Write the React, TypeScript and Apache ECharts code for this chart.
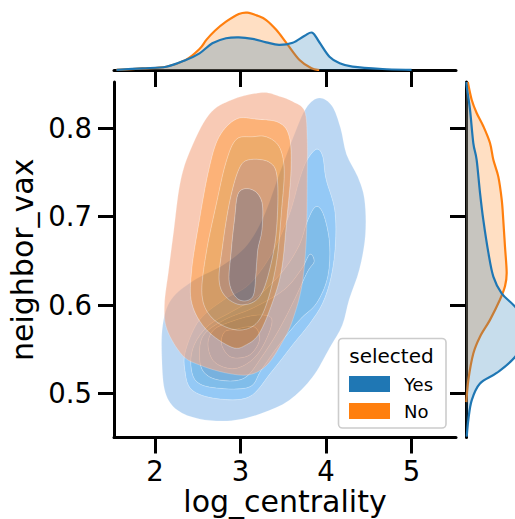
import React, { useEffect, useRef } from "react";
import * as echarts from "echarts";

// ---------- axes / labels ----------
const X_TICKS = [2, 3, 4, 5];
const Y_TICKS = [0.5, 0.6, 0.7, 0.8];
const X_MIN = 1.52;
const X_MAX = 5.52;
const Y_MIN = 0.45;
const Y_MAX = 0.852;
const X_NAME = "log_centrality";
const Y_NAME = "neighbor_vax";
const LEGEND_TITLE = "selected";
const HUE_LABELS = ["Yes", "No"];

// ---------- KDE contour levels (x = log_centrality, y = neighbor_vax), outer -> inner ----------
const YES_LEVEL_1 = [
  [3.92, 0.834], [4.07, 0.825], [4.17, 0.8], [4.24, 0.77], [4.37, 0.745], [4.45, 0.719], [4.46, 0.679],
  [4.39, 0.64], [4.27, 0.606], [4.19, 0.577], [4.04, 0.551], [3.84, 0.518], [3.57, 0.492], [3.24, 0.477],
  [2.89, 0.469], [2.52, 0.471], [2.26, 0.481], [2.12, 0.501], [2.08, 0.538], [2.09, 0.577], [2.19, 0.606],
  [2.46, 0.628], [2.81, 0.646], [3.08, 0.668], [3.28, 0.702], [3.45, 0.747], [3.63, 0.793], [3.77, 0.823],
];
const YES_LEVEL_2 = [
  [3.89, 0.776], [3.96, 0.768], [4.0, 0.742], [4.1, 0.708], [4.11, 0.67], [4.06, 0.632], [3.96, 0.602],
  [3.81, 0.579], [3.61, 0.555], [3.36, 0.524], [3.1, 0.496], [2.72, 0.494], [2.43, 0.504], [2.35, 0.526],
  [2.36, 0.549], [2.52, 0.583], [2.81, 0.606], [3.1, 0.623], [3.36, 0.657], [3.57, 0.702], [3.69, 0.742],
  [3.78, 0.764],
];
const YES_LEVEL_3 = [
  [3.88, 0.711], [3.97, 0.702], [4.04, 0.67], [4.02, 0.632], [3.89, 0.602], [3.69, 0.583], [3.45, 0.555],
  [3.24, 0.526], [3.1, 0.507], [2.72, 0.506], [2.49, 0.513], [2.42, 0.532], [2.46, 0.555], [2.63, 0.577],
  [2.93, 0.594], [3.22, 0.611], [3.51, 0.64], [3.69, 0.668], [3.78, 0.694],
];
const YES_LEVEL_4 = [
  [3.81, 0.657], [3.86, 0.649], [3.78, 0.637], [3.63, 0.606], [3.45, 0.572], [3.24, 0.54], [3.04, 0.517],
  [2.75, 0.515], [2.57, 0.524], [2.52, 0.543], [2.57, 0.566], [2.81, 0.583], [3.16, 0.597], [3.51, 0.617],
  [3.71, 0.64],
];
const YES_LEVEL_5 = [
  [2.89, 0.581], [3.16, 0.588], [3.36, 0.585], [3.31, 0.563], [3.16, 0.54], [2.93, 0.528], [2.7, 0.535],
  [2.62, 0.555], [2.69, 0.572],
];
const YES_LEVEL_6 = [
  [2.93, 0.572], [3.16, 0.575], [3.22, 0.56], [3.1, 0.543], [2.89, 0.541], [2.78, 0.555], [2.81, 0.569],
];

const NO_LEVEL_1 = [
  [3.25, 0.84], [3.45, 0.836], [3.61, 0.83], [3.75, 0.819], [3.78, 0.787], [3.78, 0.747], [3.77, 0.677],
  [3.72, 0.623], [3.61, 0.583], [3.49, 0.558], [3.31, 0.532], [3.1, 0.521], [2.83, 0.523], [2.52, 0.532],
  [2.32, 0.543], [2.14, 0.572], [2.11, 0.6], [2.16, 0.64], [2.22, 0.685], [2.29, 0.736], [2.4, 0.772],
  [2.63, 0.815], [2.9, 0.832],
];
const NO_LEVEL_2 = [
  [3.18, 0.81], [3.45, 0.806], [3.57, 0.79], [3.59, 0.753], [3.54, 0.696], [3.48, 0.64], [3.37, 0.602],
  [3.22, 0.568], [3.07, 0.555], [2.9, 0.552], [2.6, 0.572], [2.43, 0.602], [2.43, 0.64], [2.52, 0.696],
  [2.63, 0.753], [2.75, 0.79], [2.95, 0.81],
];
const NO_LEVEL_3 = [
  [3.14, 0.79], [3.3, 0.79], [3.45, 0.779], [3.51, 0.753], [3.48, 0.708], [3.42, 0.648], [3.3, 0.6],
  [3.16, 0.577], [2.93, 0.572], [2.67, 0.585], [2.55, 0.611], [2.6, 0.659], [2.72, 0.715], [2.83, 0.761],
  [2.95, 0.787],
];
const NO_LEVEL_4 = [
  [3.1, 0.764], [3.34, 0.761], [3.43, 0.742], [3.42, 0.685], [3.34, 0.64], [3.22, 0.609], [3.02, 0.6],
  [2.83, 0.609], [2.75, 0.628], [2.79, 0.666], [2.87, 0.715], [2.98, 0.753],
];
const NO_LEVEL_5 = [
  [3.14, 0.73], [3.25, 0.716], [3.25, 0.685], [3.2, 0.662], [3.18, 0.636], [3.14, 0.609], [2.98, 0.606],
  [2.87, 0.625], [2.89, 0.659], [2.93, 0.696], [2.98, 0.727],
];

// ---------- marginal densities ----------
const YES_X_VAL = [1.55, 1.85, 2.13, 2.36, 2.52, 2.67, 2.83, 2.98, 3.14, 3.3, 3.45, 3.61, 3.75, 3.84, 3.92, 4.04, 4.16, 4.31, 4.66, 5.0];
const YES_X_DENS = [0.003, 0.024, 0.047, 0.143, 0.238, 0.381, 0.453, 0.467, 0.445, 0.395, 0.36, 0.39, 0.49, 0.533, 0.4, 0.19, 0.096, 0.047, 0.014, 0.002];
const NO_X_VAL = [1.55, 1.85, 2.13, 2.36, 2.52, 2.6, 2.7, 2.83, 2.98, 3.08, 3.2, 3.3, 3.42, 3.54, 3.69, 3.83, 3.92];
const NO_X_DENS = [0.002, 0.022, 0.047, 0.145, 0.3, 0.43, 0.56, 0.69, 0.8, 0.82, 0.775, 0.714, 0.571, 0.381, 0.143, 0.024, 0.0];

const YES_Y_VAL = [0.852, 0.847, 0.821, 0.783, 0.764, 0.727, 0.696, 0.659, 0.632, 0.613, 0.598, 0.572, 0.541, 0.523, 0.511, 0.492, 0.47, 0.451];
const YES_Y_DENS = [0.006, 0.01, 0.056, 0.103, 0.15, 0.197, 0.244, 0.315, 0.385, 0.502, 0.69, 0.95, 0.69, 0.432, 0.197, 0.08, 0.033, 0.01];
const NO_Y_VAL = [0.852, 0.832, 0.817, 0.802, 0.783, 0.764, 0.745, 0.719, 0.696, 0.666, 0.636, 0.621, 0.606, 0.583, 0.564, 0.545, 0.515, 0.49];
const NO_Y_DENS = [0.025, 0.08, 0.15, 0.244, 0.338, 0.385, 0.455, 0.503, 0.525, 0.549, 0.573, 0.549, 0.479, 0.338, 0.197, 0.103, 0.033, 0.005];

// ---------- styles ----------
const BLUE = "#1f77b4";
const ORANGE = "#ff7f0e";
const YES_BAND_COLORS = ["#bbd7f3", "#94c9f6", "#80bdea", "#78b1de", "#6ba5d6", "#5e99cc"];
const NO_BAND_COLORS = [
  "rgba(243,167,132,0.6)",
  "rgba(250,127,30,0.6)",
  "rgba(226,117,10,0.6)",
  "rgba(187,97,37,0.6)",
  "rgba(128,80,62,0.66)",
];
const FONT = "DejaVu Sans";

function smoothPath(pts: number[][], closed: boolean): string {
  const n = pts.length;
  const get = (i: number) => (closed ? pts[(i + n) % n] : pts[Math.max(0, Math.min(n - 1, i))]);
  let d = `M${pts[0][0].toFixed(2)},${pts[0][1].toFixed(2)}`;
  const segs = closed ? n : n - 1;
  for (let i = 0; i < segs; i++) {
    const p0 = get(i - 1);
    const p1 = get(i);
    const p2 = get(i + 1);
    const p3 = get(i + 2);
    const c1x = p1[0] + (p2[0] - p0[0]) / 6;
    const c1y = p1[1] + (p2[1] - p0[1]) / 6;
    const c2x = p2[0] - (p3[0] - p1[0]) / 6;
    const c2y = p2[1] - (p3[1] - p1[1]) / 6;
    d += ` C${c1x.toFixed(2)},${c1y.toFixed(2)} ${c2x.toFixed(2)},${c2y.toFixed(2)} ${p2[0].toFixed(2)},${p2[1].toFixed(2)}`;
  }
  if (closed) d += " Z";
  return d;
}

function contourSeries(name: string, levels: number[][][], colors: string[], stroke: string) {
  return {
    type: "custom",
    name,
    xAxisIndex: 0,
    yAxisIndex: 0,
    silent: true,
    clip: false,
    data: levels.map((lv) => [lv[0][0], lv[0][1]]),
    renderItem: (params: any, api: any) => {
      const i = params.dataIndex;
      let d = smoothPath(levels[i].map((p) => api.coord(p)), true);
      if (i + 1 < levels.length) {
        const inner = levels[i + 1].map((p) => api.coord(p)).reverse();
        d += " " + smoothPath(inner, true);
      }
      return {
        type: "path",
        shape: { pathData: d },
        style: { fill: colors[i], stroke, lineWidth: 0.7 },
      };
    },
  };
}

function marginalSeries(
  name: string,
  vals: number[],
  dens: number[],
  color: string,
  fill: string,
  horizontal: boolean
) {
  const axisIdx = horizontal ? 1 : 2;
  const toPt = (v: number, dd: number) => (horizontal ? [v, dd] : [dd, v]);
  return {
    type: "custom",
    name,
    xAxisIndex: axisIdx,
    yAxisIndex: axisIdx,
    silent: true,
    clip: false,
    data: [toPt(vals[0], dens[0])],
    renderItem: (params: any, api: any) => {
      const pts = vals.map((v, k) => api.coord(toPt(v, dens[k])));
      const curve = smoothPath(pts, false);
      const b0 = api.coord(toPt(vals[0], 0));
      const b1 = api.coord(toPt(vals[vals.length - 1], 0));
      const fillD = `${curve} L${b1[0].toFixed(2)},${b1[1].toFixed(2)} L${b0[0].toFixed(2)},${b0[1].toFixed(2)} Z`;
      return {
        type: "group",
        children: [
          { type: "path", shape: { pathData: fillD }, style: { fill, stroke: "none" } },
          { type: "path", shape: { pathData: curve }, style: { fill: "none", stroke: color, lineWidth: 2.2 } },
        ],
      };
    },
  };
}

const spine = { show: true, onZero: false, lineStyle: { color: "#000", width: 3 } };

export default function App() {
  const ref = useRef<HTMLDivElement>(null);
  useEffect(() => {
    if (!ref.current) return;
    const chart = echarts.init(ref.current, null, { renderer: "svg" });
    const option: any = {
      animation: false,
      backgroundColor: "#fff",
      textStyle: { fontFamily: FONT },
      grid: [
        { left: 114, top: 82, width: 342, height: 355.5, outerBoundsMode: "none", containLabel: false },
        { left: 114, top: 0, width: 342, height: 70, outerBoundsMode: "none", containLabel: false },
        { left: 466, top: 82, width: 71, height: 355.5, outerBoundsMode: "none", containLabel: false },
      ],
      xAxis: [
        {
          gridIndex: 0,
          type: "value",
          min: X_MIN,
          max: X_MAX,
          axisLine: spine,
          axisTick: { show: true, customValues: X_TICKS, length: 16, lineStyle: { color: "#000", width: 3 } },
          axisLabel: {
            customValues: X_TICKS,
            fontSize: 27.5,
            fontFamily: FONT,
            color: "#000",
            margin: 19,
            formatter: (v: number) => String(v),
          },
          splitLine: { show: false },
          name: X_NAME,
          nameLocation: "middle",
          nameGap: 49,
          nameMoveOverlap: false,
          nameTextStyle: { fontSize: 30, fontFamily: FONT, color: "#000" },
        },
        {
          gridIndex: 1,
          type: "value",
          min: X_MIN,
          max: X_MAX,
          position: "bottom",
          axisLine: spine,
          axisTick: { show: true, customValues: X_TICKS, length: 17, lineStyle: { color: "#000", width: 3 } },
          axisLabel: { show: false },
          splitLine: { show: false },
        },
        { gridIndex: 2, type: "value", min: 0, max: 1, show: false },
      ],
      yAxis: [
        {
          gridIndex: 0,
          type: "value",
          min: Y_MIN,
          max: Y_MAX,
          axisLine: spine,
          axisTick: { show: true, customValues: Y_TICKS, length: 16, lineStyle: { color: "#000", width: 3 } },
          axisLabel: {
            customValues: Y_TICKS,
            fontSize: 27.5,
            fontFamily: FONT,
            color: "#000",
            margin: 22,
            formatter: (v: number) => v.toFixed(1),
          },
          splitLine: { show: false },
          name: Y_NAME,
          nameLocation: "middle",
          nameGap: 68,
          nameTextStyle: { fontSize: 30, fontFamily: FONT, color: "#000" },
        },
        { gridIndex: 1, type: "value", min: 0, max: 1, show: false },
        {
          gridIndex: 2,
          type: "value",
          min: Y_MIN,
          max: Y_MAX,
          position: "left",
          axisLine: spine,
          axisTick: { show: true, customValues: Y_TICKS, length: 16, lineStyle: { color: "#000", width: 3 } },
          axisLabel: { show: false },
          splitLine: { show: false },
        },
      ],
      series: [
        contourSeries(HUE_LABELS[0], [YES_LEVEL_1, YES_LEVEL_2, YES_LEVEL_3, YES_LEVEL_4, YES_LEVEL_5, YES_LEVEL_6], YES_BAND_COLORS, "rgba(255,255,255,0.25)"),
        contourSeries(HUE_LABELS[1], [NO_LEVEL_1, NO_LEVEL_2, NO_LEVEL_3, NO_LEVEL_4, NO_LEVEL_5], NO_BAND_COLORS, "rgba(255,255,255,0.3)"),
        marginalSeries("No-x", NO_X_VAL, NO_X_DENS, ORANGE, "rgba(255,127,14,0.25)", true),
        marginalSeries("Yes-x", YES_X_VAL, YES_X_DENS, BLUE, "rgba(31,119,180,0.25)", true),
        marginalSeries("No-y", NO_Y_VAL, NO_Y_DENS, ORANGE, "rgba(255,127,14,0.25)", false),
        marginalSeries("Yes-y", YES_Y_VAL, YES_Y_DENS, BLUE, "rgba(31,119,180,0.25)", false),
      ],
      graphic: [
        {
          type: "rect",
          z: 100,
          shape: { x: 338.5, y: 338.5, width: 107.5, height: 89.5, r: 4 },
          style: { fill: "rgba(255,255,255,0.8)", stroke: "#cccccc", lineWidth: 1.6 },
        },
        {
          type: "text",
          z: 101,
          x: 391.5,
          y: 356,
          style: {
            text: LEGEND_TITLE,
            fontSize: 20,
            fontFamily: FONT,
            fill: "#000",
            textAlign: "center",
            textVerticalAlign: "middle",
            align: "center",
            verticalAlign: "middle",
          },
        },
        { type: "rect", z: 101, shape: { x: 349, y: 376, width: 41, height: 16 }, style: { fill: BLUE } },
        {
          type: "text",
          z: 101,
          x: 404,
          y: 384,
          style: { text: HUE_LABELS[0], fontSize: 18, fontFamily: FONT, fill: "#000", textVerticalAlign: "middle", verticalAlign: "middle" },
        },
        { type: "rect", z: 101, shape: { x: 349, y: 403, width: 41, height: 16 }, style: { fill: ORANGE } },
        {
          type: "text",
          z: 101,
          x: 404,
          y: 411,
          style: { text: HUE_LABELS[1], fontSize: 18, fontFamily: FONT, fill: "#000", textVerticalAlign: "middle", verticalAlign: "middle" },
        },
      ],
    };
    chart.setOption(option);
    return () => chart.dispose();
  }, []);
  return (
    <div
      ref={ref}
      style={{ position: "fixed", left: 0, top: 0, width: 515, height: 519, background: "#fff" }}
    />
  );
}
